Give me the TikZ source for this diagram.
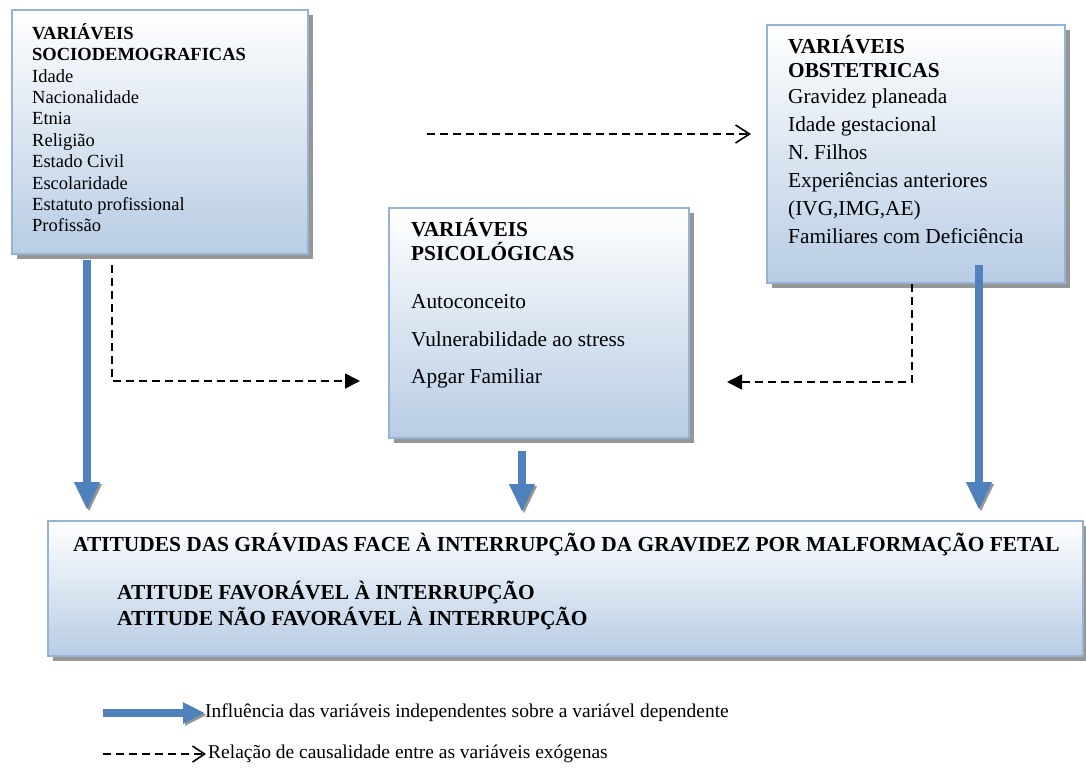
\documentclass[tikz,border=0pt]{standalone}
\usepackage{fontspec}
\setmainfont{Liberation Serif}
\usetikzlibrary{positioning,shadows,arrows.meta}

\definecolor{boxblue}{HTML}{B8CCE4}
\definecolor{boxline}{HTML}{95B3D7}
\definecolor{shadowgray}{HTML}{969696}
\definecolor{arrowblue}{HTML}{4F81BD}

% fixed height of the first text row, so the text can hang from north west
\newcommand{\toprow}{\rule{0pt}{22pt}}

\begin{document}
\begin{tikzpicture}
		[
			x=1pt, y=-1pt,
			varbox/.style={draw=boxline, line width=2pt, top color=white, bottom color=boxblue, anchor=north west, inner sep=0pt, drop shadow={shadow xshift=5pt, shadow yshift=-5pt, fill=shadowgray, opacity=1}},
			vartext/.style={anchor=north west, align=left, inner sep=0pt},
			influence/.style={draw=arrowblue, line width=8pt, -{Triangle[width=24pt,length=28pt]}, preaction={draw=shadowgray, transform canvas={xshift=2pt,yshift=-2pt}}},
			causal/.style={draw=black, line width=1.6pt, dash pattern=on 8pt off 5pt}
		]
		\useasboundingbox (0,0) rectangle (1086,773);

		\node[varbox, minimum width=296pt, minimum height=244pt] (sd) at (11,9) {};
		\node[varbox, minimum width=298pt, minimum height=258pt] (ob) at (766,24) {};
		\node[varbox, minimum width=300pt, minimum height=230pt] (ps) at (388,207) {};
		\node[varbox, minimum width=1035pt, minimum height=135pt] (att) at (47,520) {};

		\node[vartext, font=\fontsize{18.5}{21.4}\selectfont] (sdtext) at ([xshift=21pt,yshift=-8pt]sd.north west)
			{\toprow\textbf{VARIÁVEIS}\\\textbf{SOCIODEMOGRAFICAS}\\Idade\\Nacionalidade\\Etnia\\Religião\\Estado Civil\\Escolaridade\\Estatuto profissional\\Profissão};
		\node[vartext, font=\fontsize{21.3}{24.5}\selectfont] (obtext) at ([xshift=22pt,yshift=-7pt]ob.north west)
			{\toprow\textbf{VARIÁVEIS}\\\textbf{OBSTETRICAS}\\[1pt]Gravidez planeada\\[3.5pt]Idade gestacional\\[3.5pt]N. Filhos\\[3.5pt]Experiências anteriores\\[3.5pt](IVG,IMG,AE)\\[3.5pt]Familiares com Deficiência};
		\node[vartext, font=\fontsize{21.3}{24.5}\selectfont] (pstext) at ([xshift=23pt,yshift=-7pt]ps.north west)
			{\toprow\textbf{VARIÁVEIS}\\\textbf{PSICOLÓGICAS}\\[23.5pt]Autoconceito\\[13.5pt]Vulnerabilidade ao stress\\[12.5pt]Apgar Familiar};
		\node[anchor=base west, inner sep=0pt, font=\fontsize{21.4}{26}\selectfont\bfseries] (atttitle) at ([xshift=26pt,yshift=-31pt]att.north west)
			{ATITUDES DAS GRÁVIDAS FACE À INTERRUPÇÃO DA GRAVIDEZ POR MALFORMAÇÃO FETAL};
		\node[vartext, font=\fontsize{21.4}{26}\selectfont\bfseries] (attopts) at ([xshift=70pt,yshift=-57pt]att.north west)
			{\toprow ATITUDE FAVORÁVEL À INTERRUPÇÃO\\ATITUDE NÃO FAVORÁVEL À INTERRUPÇÃO};

		% influence on the dependent variable
		\draw[influence] ([xshift=76pt,yshift=-5pt]sd.south west) -- ([xshift=40pt,yshift=10pt]att.north west);
		\draw[influence] ([xshift=134pt,yshift=-12pt]ps.south west) -- ([xshift=475pt,yshift=8pt]att.north west);
		\draw[influence] ([xshift=213pt,yshift=19pt]ob.south west) -- ([xshift=932pt,yshift=10pt]att.north west);

		% causal relations
		\draw[causal, -{Straight Barb[length=14pt,width=18pt]}] ([xshift=118pt,yshift=-2pt]sd.east) -- ([xshift=-15pt,yshift=20pt]ob.west);
		\draw[causal, -{Triangle[length=15pt,width=15pt]}] ([xshift=101pt,yshift=-10pt]sd.south west) |- ([xshift=-28pt,yshift=-58pt]ps.west);
		\draw[causal, -{Triangle[length=15pt,width=15pt]}] ([xshift=146pt]ob.south west) |- ([xshift=37pt,yshift=-59pt]ps.east);

		% legend
		\node[anchor=west, inner sep=0pt, font=\fontsize{19.5}{22}\selectfont] (legblue) at (205,713) {Influência das variáveis independentes sobre a variável dependente};
		\coordinate (legbluestart) at (103,713);
		\draw[influence, -{Triangle[width=20pt,length=22pt]}] (legbluestart) -- (legblue.west);
		\node[anchor=west, inner sep=0pt, font=\fontsize{19.5}{22}\selectfont] (legdash) at (208,754) {Relação de causalidade entre as variáveis exógenas};
		\coordinate (legdashstart) at (103,754);
		\draw[causal, -{Straight Barb[length=12pt,width=16pt]}] (legdashstart) -- ([xshift=-2pt]legdash.west);
	\end{tikzpicture}
\end{document}
